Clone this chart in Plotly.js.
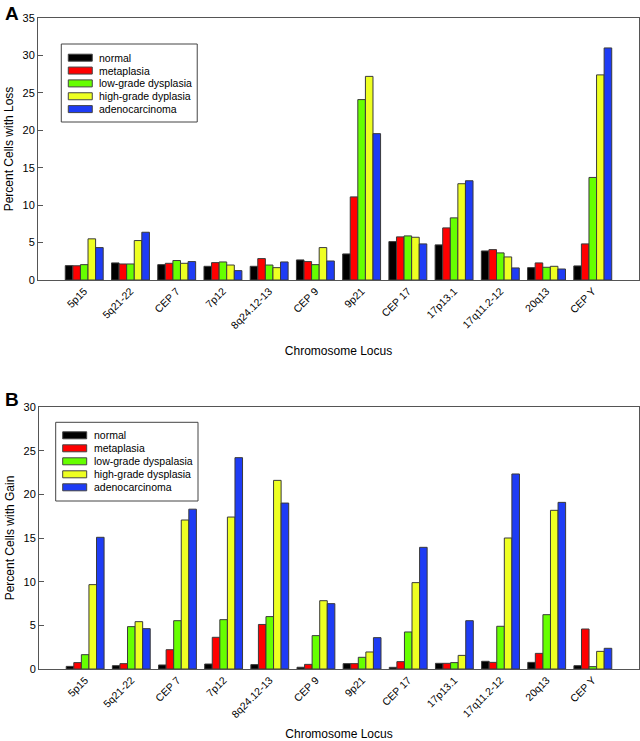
<!DOCTYPE html>
<html><head><meta charset="utf-8">
<script src="https://cdn.plot.ly/plotly-3.0.1.min.js"></script>
<style>html,body{margin:0;padding:0;background:#fff}#chart{width:640px;height:741px}</style>
</head><body><div id="chart"></div>
<script>
// ---- data ----
const loci = ["5p15","5q21-22","CEP 7","7p12","8q24.12-13","CEP 9","9p21","CEP 17","17p13.1","17q11.2-12","20q13","CEP Y"];
const lossNames = ["normal","metaplasia","low-grade dysplasia","high-grade dyplasia","adenocarcinoma"];
const gainNames = ["normal","metaplasia","low-grade dyspalasia","high-grade dysplasia","adenocarcinoma"];
const colors = ["#000000","#ff0000","#66ff00","#eeff22","#1e3cf5"];

const lossNormal     = [1.92, 2.28, 2.05, 1.83, 1.83, 2.68, 3.48, 5.13, 4.69, 3.88, 1.65, 1.88];
const lossMetaplasia = [1.90, 2.14, 2.23, 2.32, 2.86, 2.46, 11.1, 5.76, 6.96, 4.06, 2.28, 4.82];
const lossLowGrade   = [2.05, 2.14, 2.60, 2.41, 2.00, 2.05, 24.1, 5.89, 8.30, 3.62, 1.70, 13.7];
const lossHighGrade  = [5.50, 5.27, 2.23, 2.00, 1.65, 4.33, 27.2, 5.71, 12.86, 3.08, 1.83, 27.4];
const lossAdeno      = [4.33, 6.38, 2.46, 1.25, 2.41, 2.54, 19.55, 4.82, 13.26, 1.61, 1.47, 31.0];

const gainNormal     = [0.30, 0.38, 0.46, 0.57, 0.50, 0.20, 0.61, 0.19, 0.65, 0.88, 0.76, 0.38];
const gainMetaplasia = [0.73, 0.61, 2.21, 3.63, 5.10, 0.53, 0.61, 0.84, 0.65, 0.76, 1.79, 4.58];
const gainLowGrade   = [1.64, 4.85, 5.53, 5.65, 6.00, 3.82, 1.34, 4.24, 0.73, 4.89, 6.22, 0.27];
const gainHighGrade  = [9.66, 5.42, 17.06, 17.4, 21.6, 7.82, 1.95, 9.89, 1.56, 15.0, 18.17, 2.02];
const gainAdeno      = [15.08, 4.62, 18.3, 24.2, 19.0, 7.48, 3.59, 13.93, 5.53, 22.33, 19.08, 2.37];

const lossSeries = [lossNormal, lossMetaplasia, lossLowGrade, lossHighGrade, lossAdeno];
const gainSeries = [gainNormal, gainMetaplasia, gainLowGrade, gainHighGrade, gainAdeno];

// ---- build ----
const FONT = '"Liberation Sans", Arial, Helvetica, sans-serif';
const W = 640, H = 741;
const M = {l: 38, r: 1, t: 18, b: 72};
const plotW = W - M.l - M.r, plotH = H - M.t - M.b;
// pixel rectangles of the two panels
const rectA = {x0: 37.7, x1: 639, y0: 18, y1: 280};
const rectB = {x0: 39, x1: 639, y0: 407, y1: 669};
const pyToPaper = py => (H - M.b - py) / plotH;
const pxToPaper = px => (px - M.l) / plotW;

const traces = [];
lossSeries.forEach((vals, i) => traces.push({
  type: 'bar', x: loci, y: vals, name: lossNames[i], xaxis: 'x', yaxis: 'y',
  marker: {color: colors[i], line: {color: '#3a3a3a', width: 1}}, showlegend: false,
  hoverinfo: 'x+y+name'
}));
gainSeries.forEach((vals, i) => traces.push({
  type: 'bar', x: loci, y: vals, name: gainNames[i], xaxis: 'x2', yaxis: 'y2',
  marker: {color: colors[i], line: {color: '#3a3a3a', width: 1}}, showlegend: false,
  hoverinfo: 'x+y+name'
}));

const axLine = '#555555';
const xCommon = {
  type: 'category', range: [-1, 12], showline: true, mirror: true, linecolor: axLine, linewidth: 1,
  ticks: '', tickangle: -45, showgrid: false, zeroline: false, fixedrange: true,
  tickfont: {family: FONT, size: 10.5, color: '#000'}
};
const yCommon = {
  showline: true, mirror: true, linecolor: axLine, linewidth: 1, ticks: 'inside', ticklen: 5,
  tickcolor: axLine, dtick: 5, showgrid: false, zeroline: false, fixedrange: true,
  tickfont: {family: FONT, size: 11, color: '#000'}
};

const shapes = [], annotations = [];
function addLegend(names, rect, box, sw, textX, firstY, step, xref, yref) {
  const fx = px => (px - rect.x0) / (rect.x1 - rect.x0);
  const fy = py => (rect.y1 - py) / (rect.y1 - rect.y0);
  shapes.push({type: 'rect', xref, yref, x0: fx(box.x0), x1: fx(box.x1), y0: fy(box.y1), y1: fy(box.y0),
    line: {color: '#444', width: 1}, fillcolor: 'rgba(255,255,255,1)', layer: 'above'});
  names.forEach((n, i) => {
    const cy = firstY + i * step;
    shapes.push({type: 'rect', xref, yref, x0: fx(sw.x0), x1: fx(sw.x1), y0: fy(cy + 3.5), y1: fy(cy - 3.5),
      line: {color: '#444', width: 1}, fillcolor: colors[i], layer: 'above'});
    annotations.push({xref, yref, x: fx(textX), y: fy(cy), text: n, showarrow: false,
      xanchor: 'left', yanchor: 'middle', font: {family: FONT, size: 10.5, color: '#000'}});
  });
}
addLegend(lossNames, rectA, {x0: 61, x1: 197, y0: 44, y1: 122}, {x0: 68, x1: 92}, 97, 57.7, 12.85, 'x domain', 'y domain');
addLegend(gainNames, rectB, {x0: 55.7, x1: 198, y0: 422.3, y1: 501}, {x0: 62.7, x1: 86.7}, 91.5, 435.3, 13, 'x2 domain', 'y2 domain');

annotations.push({xref: 'paper', yref: 'paper', x: pxToPaper(3), y: pyToPaper(1), xanchor: 'left', yanchor: 'top',
  text: '<b>A</b>', showarrow: false, font: {family: FONT, size: 19, color: '#000'}});
annotations.push({xref: 'paper', yref: 'paper', x: pxToPaper(3), y: pyToPaper(387), xanchor: 'left', yanchor: 'top',
  text: '<b>B</b>', showarrow: false, font: {family: FONT, size: 19, color: '#000'}});

const layout = {
  width: W, height: H, margin: M, paper_bgcolor: '#fff', plot_bgcolor: '#fff',
  barmode: 'group', bargap: 0.18, bargroupgap: 0, showlegend: false,
  font: {family: FONT, color: '#000'},
  xaxis: Object.assign({}, xCommon, {anchor: 'y', domain: [pxToPaper(rectA.x0), pxToPaper(rectA.x1)],
    title: {text: 'Chromosome Locus', font: {family: FONT, size: 12, color: '#000'}, standoff: 16}}),
  yaxis: Object.assign({}, yCommon, {anchor: 'x', range: [0, 35], domain: [pyToPaper(rectA.y1), pyToPaper(rectA.y0)],
    title: {text: 'Percent Cells with Loss', font: {family: FONT, size: 12, color: '#000'}, standoff: 6}}),
  xaxis2: Object.assign({}, xCommon, {anchor: 'y2', domain: [pxToPaper(rectB.x0), pxToPaper(rectB.x1)],
    title: {text: 'Chromosome Locus', font: {family: FONT, size: 12, color: '#000'}, standoff: 16}}),
  yaxis2: Object.assign({}, yCommon, {anchor: 'x2', range: [0, 30], domain: [pyToPaper(rectB.y1), pyToPaper(rectB.y0)],
    title: {text: 'Percent Cells with Gain', font: {family: FONT, size: 12, color: '#000'}, standoff: 6}}),
  shapes, annotations
};

Plotly.newPlot('chart', traces, layout, {displayModeBar: false, staticPlot: true});
</script>
</body></html>
